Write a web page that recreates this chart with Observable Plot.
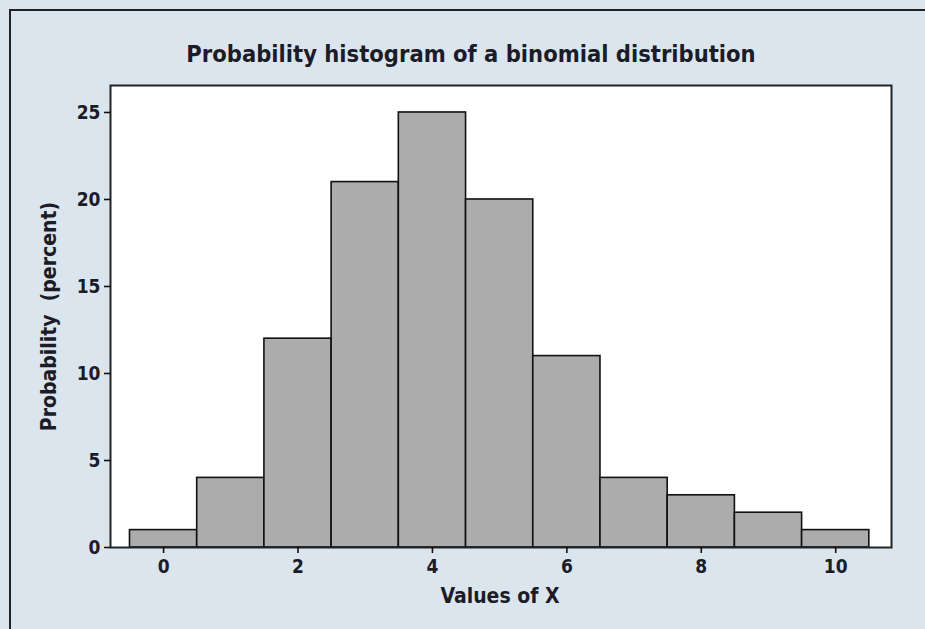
<!DOCTYPE html>
<html>
<head>
<meta charset="utf-8">
<script src="https://cdn.jsdelivr.net/npm/d3@7"></script>
<script src="https://cdn.jsdelivr.net/npm/@observablehq/plot@0.6"></script>
<style>
  html, body { margin: 0; padding: 0; background: #fff; }
  #wrap { position: relative; width: 925px; height: 629px; background: #dbe5ee; overflow: hidden; }
  #border { position: absolute; left: 9px; top: 9px; width: 930px; height: 640px; border-top: 2px solid #222; border-left: 2px solid #222; }
  #chart { position: absolute; left: 0; top: 0; }
</style>
</head>
<body>
<div id="wrap"><div id="border"></div><div id="chart"></div></div>
<script>
const title = "Probability histogram of a binomial distribution";
const xLabel = "Values of X";
const yLabel = "Probability  (percent)";
const xValues = [0, 1, 2, 3, 4, 5, 6, 7, 8, 9, 10];
const probabilities = [1, 4, 12, 21, 25, 20, 11, 4, 3, 2, 1];
const xTicks = [0, 2, 4, 6, 8, 10];
const yTicks = [0, 5, 10, 15, 20, 25];

const data = xValues.map((x, i) => ({x, p: probabilities[i]}));
const font = "'DejaVu Sans Condensed', 'DejaVu Sans', sans-serif";
const ink = "#1c1c28";

const chart = Plot.plot({
  width: 925,
  height: 629,
  marginTop: 85,
  marginLeft: 110,
  marginRight: 34,
  marginBottom: 82,
  style: {background: "transparent", fontFamily: font, fontSize: "19px", fontWeight: "bold", color: ink},
  x: {domain: [-0.79, 10.83]},
  y: {domain: [0, 26.55]},
  marks: [
    Plot.frame({fill: "white", stroke: null}),
    Plot.rectY(data, {x1: d => d.x - 0.5, x2: d => d.x + 0.5, y1: 0, y2: "p", fill: "#acacac", stroke: "#111", strokeWidth: 1.6}),
    Plot.frame({stroke: "#222", strokeWidth: 2}),
    Plot.axisY({ticks: yTicks, tickSize: 6, tickPadding: 4, label: null, stroke: "#111", strokeWidth: 1.6, fill: ink, fontSize: 19}),
    Plot.axisX({ticks: xTicks, tickSize: 6, tickPadding: 6, label: null, stroke: "#111", strokeWidth: 1.6, fill: ink, fontSize: 19}),
    Plot.text([title], {frameAnchor: "top", dx: -30, dy: -31, lineAnchor: "middle", fontSize: 23.5, fontWeight: "bold", fill: ink}),
    Plot.text([xLabel], {frameAnchor: "bottom", dx: -1, dy: 49, lineAnchor: "middle", fontSize: 21, fontWeight: "bold", fill: ink}),
    Plot.text([yLabel], {frameAnchor: "left", dx: -61, rotate: -90, textAnchor: "middle", lineAnchor: "middle", fontSize: 21, fontWeight: "bold", fill: ink})
  ]
});
document.getElementById("chart").appendChild(chart);
</script>
</body>
</html>
